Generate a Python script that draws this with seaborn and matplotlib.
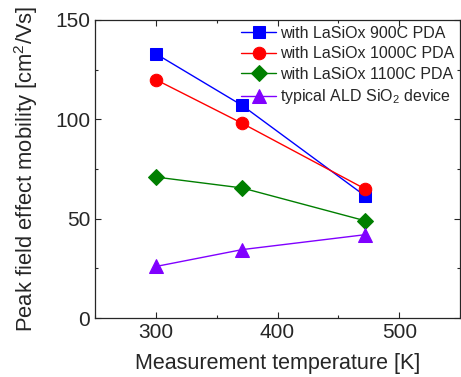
import matplotlib
matplotlib.use("Agg")
import matplotlib.pyplot as plt
import seaborn as sns
import pandas as pd
from matplotlib.ticker import MultipleLocator

sns.set_style("ticks")
plt.rcParams['font.family'] = ['Liberation Sans', 'DejaVu Sans']
plt.rcParams['mathtext.fontset'] = 'custom'
plt.rcParams['mathtext.rm'] = 'Liberation Sans'

temps = [300, 371, 472]
blue_900 = [133, 107, 61.5]
red_1000 = [120, 98, 65]
green_1100 = [71, 65.5, 49]
purple_sio2 = [26, 34.5, 42]

labels = ["with LaSiOx 900C PDA", "with LaSiOx 1000C PDA",
          "with LaSiOx 1100C PDA", "typical ALD SiO$_2$ device"]
series = [blue_900, red_1000, green_1100, purple_sio2]
colors = ["#0000ff", "#ff0000", "#007f00", "#8000ff"]
markers = ["s", "o", "D", "^"]
msizes = [9, 9, 8, 10]

fig = plt.figure(figsize=(4.61, 3.77), dpi=100)
ax = fig.add_axes([0.206, 0.156, 0.792, 0.791])

for lab, vals, c, m, ms in zip(labels, series, colors, markers, msizes):
    df = pd.DataFrame({"T": temps, "mu": vals})
    sns.lineplot(data=df, x="T", y="mu", ax=ax, color=c, marker=m, markersize=ms,
                 markeredgecolor=c, linewidth=1.0, label=lab)

ax.set_xlim(250, 550)
ax.set_ylim(0, 150)
ax.xaxis.set_major_locator(MultipleLocator(100))
ax.xaxis.set_minor_locator(MultipleLocator(50))
ax.yaxis.set_major_locator(MultipleLocator(50))
ax.yaxis.set_minor_locator(MultipleLocator(25))
ax.tick_params(which='both', direction='in', top=True, right=True, labelsize=15, width=0.8)
ax.tick_params(which='major', length=4)
ax.tick_params(which='minor', length=2.5)
for s in ax.spines.values():
    s.set_linewidth(0.9)
ax.set_xlabel("Measurement temperature [K]", fontsize=15.5, labelpad=8)
ax.set_ylabel("Peak field effect mobility [cm$^2$/Vs]", fontsize=15.8, labelpad=11)

leg = ax.legend(loc="upper right", frameon=False, fontsize=11.5, handlelength=2.2,
                handletextpad=0.25, labelspacing=0.35, borderaxespad=0.0,
                borderpad=0.35, bbox_to_anchor=(1.0, 1.0))

fig.savefig("out.png", dpi=100)
